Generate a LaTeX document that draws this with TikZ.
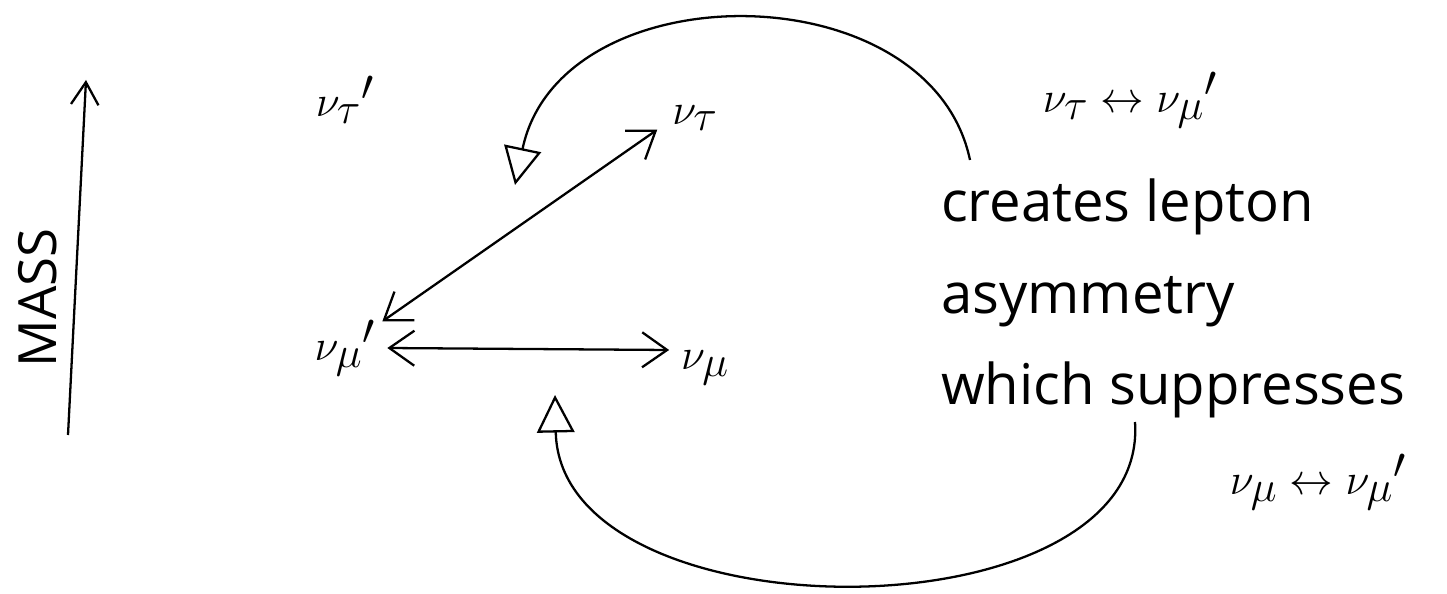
\documentclass[tikz,border=0pt]{standalone}
\usepackage{fontspec}
\setmainfont{Open Sans}
\setsansfont{Open Sans}
\usetikzlibrary{calc,arrows.meta}

\begin{document}
\begin{tikzpicture}[x=0.02cm,y=-0.02cm,line width=1.3pt,
    nulabel/.style={font=\fontsize{40}{42}\selectfont},
    mixlabel/.style={font=\fontsize{36}{40}\selectfont},
    mixarrow/.style={{Straight Barb[length=0.5cm,width=0.7cm]}-{Straight Barb[length=0.5cm,width=0.7cm]}},
    loop/.style={-{Triangle[open,length=0.75cm,width=0.75cm]}}]

    % Frame of the picture
    \useasboundingbox (0,0) rectangle (1447,594);

    % --- Mass axis ---
    \coordinate (massbot) at (68,435);
    \coordinate (masstop) at (86,80);
    \draw[-{Straight Barb[length=0.45cm,width=0.55cm]}] (massbot) -- (masstop);
    \node[rotate=90,font=\sffamily\fontsize{30}{32}\selectfont] (masslabel) at (38,298) {MASS};

    % --- Neutrino states ---
    \node[nulabel] (nutp) at (345,100) {$\nu_{\tau}{}^{\prime}$};
    \node[nulabel] (nut)  at (695,118) {$\nu_\tau$};
    \node[nulabel] (nump) at (345,348) {$\nu_{\mu}{}^{\prime}$};
    \node[nulabel] (num)  at (705,368) {$\nu_\mu$};

    % Oscillations between the states
    \draw[mixarrow] ($(nump.north east)+(0,8)$) -- ($(nut.south west)+(-8,-8)$);
    \draw[mixarrow] ($(nump.east)+(5,0)$) -- ($(num.west)+(-5,-18)$);

    % --- Explanation text ---
    \node[anchor=north west,align=left,inner sep=0pt,
          font=\fontsize{32}{52}\selectfont] (effect) at (940,178)
        {creates lepton\\asymmetry\\which suppresses};

    % Mixing labels
    \node[mixlabel] (mixa) at (1130,100) {$\nu_\tau\leftrightarrow\nu_{\mu}{}^{\prime}$};
    \node[mixlabel] (mixb) at (1318,482) {$\nu_\mu\leftrightarrow\nu_{\mu}{}^{\prime}$};

    % --- Feedback loops ---
    \coordinate (srca) at (970,160);
    \coordinate (tipa) at (515,185);
    \coordinate (srcb) at (1135,422);
    \coordinate (tipb) at (555,395);
    \draw[loop] (srca) .. controls (930,-30) and (560,-30) .. (tipa);
    \draw[loop] (srcb) .. controls (1150,640) and (560,640) .. (tipb);

\end{tikzpicture}
\end{document}
